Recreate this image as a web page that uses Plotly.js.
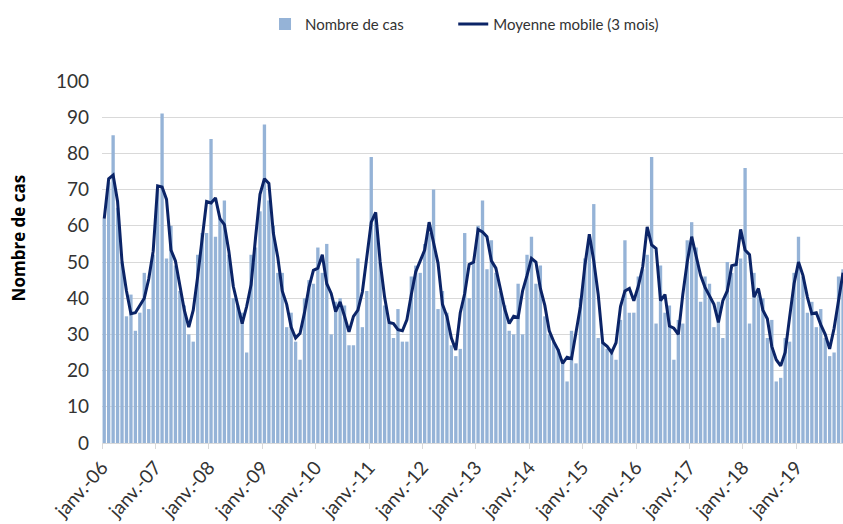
<!DOCTYPE html>
<html>
<head>
<meta charset="utf-8">
<script src="https://cdn.plot.ly/plotly-3.0.1.min.js"></script>
<style>
  html, body { margin: 0; padding: 0; background: #ffffff; }
  #chart { width: 843px; height: 524px; }
</style>
</head>
<body>
<div id="chart"></div>
<script>
// Monthly case counts, janv. 2006 -> nov. 2019
const nombreDeCas = [
  62,72,85,65,50,35,41,31,36,47,37,52,
  70,91,51,60,49,42,38,30,28,52,58,58,
  84,57,62,67,52,40,38,36,25,52,54,64,
  88,67,60,47,47,32,36,28,23,40,45,44,
  54,47,55,30,39,40,38,27,27,51,32,42,
  79,62,50,38,33,29,37,28,28,46,49,47,
  55,58,70,37,42,36,27,24,26,58,40,50,
  60,67,48,56,47,42,38,31,30,44,30,52,
  57,44,49,35,30,28,26,23,17,31,22,40,
  51,56,66,29,28,26,26,23,34,56,36,36,
  46,48,52,79,33,49,36,38,23,34,33,56,
  61,54,39,46,44,32,39,29,50,47,50,51,
  76,33,47,41,40,29,34,17,18,29,28,47,
  57,46,36,39,32,37,29,24,25,46,48
];

// 3-month moving average
const moyenneMobile = [
  62,73,74,66.7,50,42,35.7,36,38,40,45.3,53,
  71,70.7,67.3,53.3,50.3,43,36.7,32,36.7,46,56,66.7,
  66.3,67.7,62,60.3,53,43.3,38,33,37.7,43.7,56.7,68.7,
  73,71.7,58,51.3,42,38.3,32,29,30.3,36,43,47.7,
  48.3,52,44,41.3,36.3,39,35,30.7,35,36.7,41.7,51,
  61,63.7,50,40.3,33.3,33,31.3,31,34,41,47.3,50.3,
  53.3,61,55,49.7,38.3,35,29,25.7,36,41.3,49.3,50,
  59,58.3,57,50.3,48.3,42.3,37,33,35,34.7,42,46.3,
  51,50,42.7,38,31,28,25.7,22,23.7,23.3,31,37.7,
  49,57.7,50.3,41,27.7,26.7,25,27.7,37.7,42,42.7,39.3,
  43.3,48.7,59.7,54.7,53.7,39.3,41,32.3,31.7,30,41,50,
  57,51.3,46.3,43,40.7,38.3,33.3,39.3,42,49,49.3,59,
  53.3,52,40.3,42.7,36.7,34.3,26.7,23,21.3,25,34.7,44,
  50,46.3,40.3,35.7,36,32.7,30,26,31.7,39.7,47
];

const tickLabels = ['janv.-06','janv.-07','janv.-08','janv.-09','janv.-10','janv.-11','janv.-12',
                    'janv.-13','janv.-14','janv.-15','janv.-16','janv.-17','janv.-18','janv.-19'];

const monthIndex = nombreDeCas.map((_, i) => i);
const tickPositions = tickLabels.map((_, k) => k * 12 - 0.5);

const font = 'Lato, "Open Sans", "Liberation Sans", sans-serif';

const data = [
  {
    type: 'bar',
    name: 'Nombre de cas',
    x: monthIndex,
    y: nombreDeCas,
    marker: { color: '#95b3d7' },
    legend: 'legend',
    hoverinfo: 'skip'
  },
  {
    type: 'scatter',
    mode: 'lines',
    name: 'Moyenne mobile (3 mois)',
    x: monthIndex,
    y: moyenneMobile,
    line: { color: '#0b2467', width: 3 },
    legend: 'legend2',
    hoverinfo: 'skip'
  }
];

const legendFont = { size: 15, color: '#333333', family: font };

const layout = {
  width: 843,
  height: 524,
  margin: { l: 102, r: 0, t: 81, b: 81 },
  paper_bgcolor: '#ffffff',
  plot_bgcolor: '#ffffff',
  font: { family: font, color: '#333333' },
  bargap: 0.25,
  showlegend: true,
  legend: {
    orientation: 'h',
    x: 0.220, xanchor: 'left',
    y: 1.157, yanchor: 'middle',
    font: legendFont,
    bgcolor: 'rgba(0,0,0,0)'
  },
  legend2: {
    orientation: 'h',
    x: 0.474, xanchor: 'left',
    y: 1.157, yanchor: 'middle',
    font: legendFont,
    bgcolor: 'rgba(0,0,0,0)'
  },
  xaxis: {
    type: 'linear',
    range: [-0.5, 166.0],
    tickmode: 'array',
    tickvals: tickPositions,
    ticktext: tickLabels,
    tickangle: -48,
    ticks: 'outside',
    ticklen: 5,
    tickcolor: '#d9d9d9',
    showgrid: false,
    zeroline: false,
    showline: true,
    linecolor: '#d9d9d9',
    tickfont: { size: 19, color: '#333333', family: font },
    fixedrange: true
  },
  yaxis: {
    range: [0, 100],
    dtick: 10,
    tick0: 0,
    showgrid: true,
    gridcolor: '#d9d9d9',
    gridwidth: 1,
    zeroline: false,
    showline: false,
    ticks: '',
    ticklabelstandoff: 12,
    tickfont: { size: 19, color: '#333333', family: font },
    fixedrange: true
  },
  annotations: [
    {
      text: '<b>Nombre de cas</b>',
      xref: 'paper', yref: 'paper',
      x: -0.113, y: 0.566,
      xanchor: 'center', yanchor: 'middle',
      textangle: -90,
      showarrow: false,
      font: { size: 17, color: '#000000', family: '"Open Sans", Lato, sans-serif' }
    }
  ]
};

Plotly.newPlot('chart', data, layout, { displayModeBar: false, staticPlot: true });
</script>
</body>
</html>
